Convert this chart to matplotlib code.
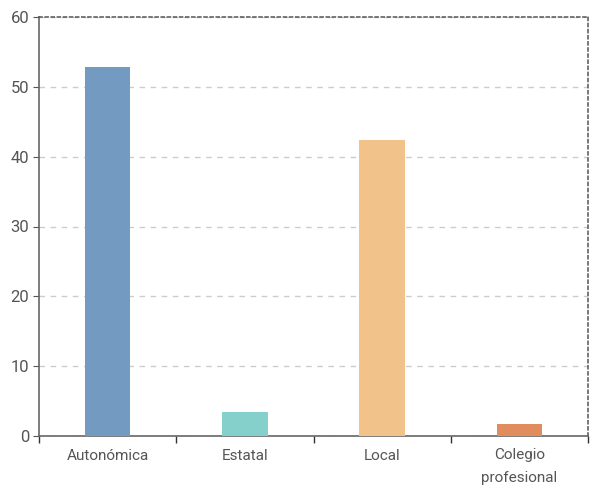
import matplotlib
matplotlib.use("Agg")
import matplotlib.pyplot as plt
import numpy as np

categories = ["Autonómica", "Estatal", "Local", "Colegio\nprofesional"]
values = [52.9, 3.4, 42.4, 1.7]
colors = ["#739bc1", "#86d0cb", "#f1c28a", "#e08c5e"]
yticks = [0, 10, 20, 30, 40, 50, 60]

plt.rcParams['font.family'] = ['Roboto', 'DejaVu Sans']

fig = plt.figure(figsize=(5.9, 4.88), dpi=100)
ax = fig.add_axes([39/590, 52/488, 549/590, 419/488])

x = np.arange(len(categories))
ax.bar(x, values, width=0.33, color=colors, zorder=3)

ax.set_xlim(-0.5, 3.5)
ax.set_ylim(0, 60)
ax.set_yticks(yticks)
ax.set_xticks(x)
ax.set_xticklabels(categories, fontsize=11, color="#555555", linespacing=1.75)
ax.set_xticks(np.arange(-0.5, 4, 1), minor=True)
ax.tick_params(axis='x', which='major', length=0, pad=9)
ax.tick_params(axis='x', which='minor', length=5, color="#333333", width=1)
ax.tick_params(axis='y', length=4, color="#555555", labelsize=12, labelcolor="#555555", pad=3)

ax.grid(axis='y', linestyle=(0, (4, 4)), color="#cccccc", linewidth=1, zorder=0)
for s in ['left', 'bottom']:
    ax.spines[s].set_color("#666666")
    ax.spines[s].set_linewidth(1.2)
for s in ['top', 'right']:
    ax.spines[s].set_color("#555555")
    ax.spines[s].set_linestyle((0, (2, 2)))
    ax.spines[s].set_linewidth(1.1)

fig.savefig("out.png", dpi=100)
